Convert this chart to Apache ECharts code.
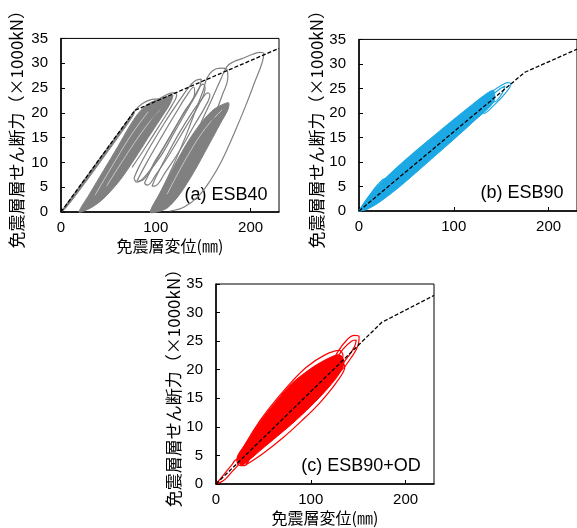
<!DOCTYPE html>
<html>
<head>
<meta charset="utf-8">
<script src="https://cdn.jsdelivr.net/npm/echarts@6/dist/echarts.min.js"></script>
<style>
html, body { margin: 0; padding: 0; background: #fff; }
#chart { width: 577px; height: 528px; }
</style>
</head>
<body>
<div id="chart"></div>
<script>
// skeleton (dashed) curves
var skeletonA = [[0, 0], [78, 20.5], [230, 33]];
var skeletonBC = [[0, 0], [175, 28.3], [230, 33]];

// (a) ESB40 - filled bands
var bandA1 = [[0, 0], [20, 5.3], [40, 10.6], [60, 15.8], [78, 20.5], [76, 19.4], [60, 15], [40, 9.7], [20, 4.5], [5, 0.8]];
var bandA2 = [[19, 0], [30, 3.6], [45, 8.4], [60, 13.2], [72, 17.2], [82, 20], [92, 21.8], [104, 22.8], [112, 23.3], [118, 23.6],
  [115, 21.8], [105, 18.8], [92, 15], [78, 10.8], [63, 6.6], [48, 3.3], [37, 1.5], [28, 0.5]];
var bandA5 = [[94, 0], [105, 4], [120, 9.5], [135, 14.5], [150, 18.5], [162, 20.8], [172, 21.8], [177, 22],
  [176, 20.6], [168, 17.8], [155, 13.2], [140, 8], [125, 3.5], [112, 0.8], [101, 0]];
// light gaps inside the dense bands
var gapA2a = [[36, 3.4], [55, 9.6], [75, 15.8], [92, 20.2]];
var gapA2b = [[48, 5.2], [68, 11.2], [88, 16.8], [104, 20.6]];
var gapA5a = [[112, 3.6], [132, 10.8], [152, 16.8], [170, 20.6]];
// (a) ESB40 - loops
var loopA1 = [[78, 20.5], [86, 21.9], [96, 22.7], [103, 22.8], [107, 22.1], [100, 19.8], [85, 15.2], [70, 10.6], [55, 6.3], [42, 3], [35, 1.6]];
var loopA2 = [[104, 22.9], [111, 23.6], [118, 24], [122, 23.6], [118, 21.8], [105, 17.8], [90, 13.3], [75, 9]];
var loopA3 = [[77, 6.8], [82, 9], [95, 13.5], [110, 18.2], [125, 22.5], [135, 25.2], [142, 26.5], [148, 26.8], [146, 25],
  [135, 21.2], [120, 16.2], [105, 11.2], [90, 7.5], [80, 6], [77, 6.8]];
var loopA4 = [[88, 5.8], [95, 8.5], [110, 13.5], [125, 18.5], [140, 23], [150, 25.8], [152, 25], [145, 21.5], [130, 16.6],
  [115, 11.8], [100, 7.5], [91, 5.4], [88, 5.8]];
var loopA5 = [[96, 5.2], [100, 7], [112, 11.5], [125, 16], [138, 20], [148, 22.6], [155, 24], [157, 23.6], [152, 21.2],
  [140, 17.3], [125, 12.3], [110, 8], [100, 5.3], [96, 5.2]];
var loopA6 = [[96, 0.8], [105, 4], [118, 9.2], [132, 15.5], [142, 20.5], [150, 24.5], [154, 27], [160, 28.5], [168, 29],
  [175, 28.8], [176, 27.2], [170, 23.5], [160, 18.5], [145, 12], [130, 6.8], [115, 3], [104, 1], [96, 0.8]];
var loopA7 = [[100, 0.5], [130, 11], [155, 21], [168, 26.5], [175, 29.3], [182, 30.3], [192, 31], [202, 31.8], [210, 32.2],
  [214, 32], [212, 30], [205, 26.5], [195, 21.5], [183, 16], [170, 10.5], [158, 6.5], [145, 3.2], [130, 1], [115, 0.2]];
var loopA8 = [[80, 6.2], [90, 9.8], [105, 14.8], [120, 19.6], [132, 23.3], [140, 25.2], [141, 24], [130, 20.2], [115, 15.2], [100, 10.5], [86, 6.4], [80, 6.2]];

// (b) ESB90
var bandB = [[0, 0], [8, 2.4], [20, 5.2], [40, 8.9], [60, 12.3], [80, 15.5], [100, 18.7], [120, 21.8], [135, 24], [142, 24.6],
  [142, 22.2], [120, 18.1], [100, 14.6], [80, 11.2], [60, 7.8], [40, 4.5], [20, 1.6], [8, 0.3], [2, 0]];
var loopB1 = [[128, 22.3], [140, 24.3], [150, 25.6], [157, 26.2], [160, 26], [159, 25.2], [152, 23.5], [143, 21.7], [132, 19.9], [128, 22.3]];
var loopB2 = [[136, 22.8], [147, 24.7], [154, 25.5], [151, 24], [142, 22.2], [136, 22.8]];
var loopB3 = [[0, 0], [10, 2.9], [20, 5.4], [28, 6.6], [31, 6], [22, 3.6], [12, 1.4], [0, 0]];

// (c) ESB90+OD
var bandC = [[22, 4.5], [30, 6.8], [47, 11], [65, 14.8], [80, 17.6], [100, 20.2], [115, 21.7], [128, 22.6], [133, 22.3],
  [135, 21], [128, 18.8], [115, 16.2], [100, 13.6], [80, 10.5], [65, 8.4], [47, 5.9], [35, 4.2], [27, 3.3]];
var loopC1 = [[118, 19.8], [128, 23], [138, 25.2], [146, 26], [151, 25.8], [150, 24.3], [143, 22.2], [133, 20], [124, 18.8], [118, 19.8]];
var loopC2 = [[124, 21], [134, 23.6], [143, 25], [148, 25.2], [146, 24], [138, 22], [128, 20.5], [124, 21]];
var loopC3 = [[22, 4.2], [28, 5.6], [36, 6.4], [40, 5.8], [35, 4.3], [30, 3.2], [24, 3.3], [22, 4.2]];
var loopC4 = [[0, 0], [8, 1.6], [16, 3.2], [22, 4.3], [24, 3.8], [16, 2], [8, 0.6], [0, 0]];
var loopC5 = [[28, 6], [40, 9.5], [55, 13], [75, 17], [95, 20.4], [115, 22.6], [130, 23.4], [134, 22.4], [120, 20],
  [100, 17], [80, 13.5], [60, 9.8], [45, 7.2], [34, 5.6], [28, 6]];
var loopC6 = [[32, 3.4], [50, 5.4], [70, 8], [90, 11], [110, 14.3], [128, 18], [136, 20.6], [132, 21], [118, 18.2],
  [100, 15], [80, 11.8], [60, 8.8], [42, 6], [32, 3.4]];

var gray = '#808080';
var blue = '#1CA8E4';
var red = '#FF0000';
var numFont = "'Liberation Sans', sans-serif";
var jpFont = "'Noto Sans CJK JP', sans-serif";

function polySeries(idx, pts, color) {
    return {
        type: 'custom', xAxisIndex: idx, yAxisIndex: idx, data: [[0, 0]], silent: true, z: 2,
        renderItem: function (params, api) {
            return {
                type: 'polygon',
                shape: { points: pts.map(function (p) { return api.coord(p); }), smooth: 0.3 },
                style: { fill: color, stroke: color, lineWidth: 1 }
            };
        }
    };
}

function loopSeries(idx, pts, color, w) {
    return {
        type: 'line', xAxisIndex: idx, yAxisIndex: idx, data: pts, symbol: 'none', smooth: 0.4,
        silent: true, z: 3, lineStyle: { color: color, width: w || 1.2 }
    };
}

function skelSeries(idx, pts) {
    return {
        type: 'line', xAxisIndex: idx, yAxisIndex: idx, data: pts, symbol: 'none', silent: true, z: 5,
        lineStyle: { color: '#000', width: 1.3, type: [4, 2] }
    };
}

function xAx(idx, withName) {
    return {
        gridIndex: idx, type: 'value', min: 0, max: 230, interval: 100,
        axisLine: { show: true, onZero: false, lineStyle: { color: '#000', width: 1.5 } },
        axisTick: { inside: true, length: 4, lineStyle: { color: '#000' } },
        axisLabel: { showMaxLabel: false, color: '#000', fontSize: 15, margin: 8, fontFamily: numFont },
        splitLine: { show: false },
        name: withName ? '免震層変位(㎜)' : '', nameLocation: 'middle', nameGap: 26,
        nameTextStyle: { color: '#000', fontSize: 16, fontFamily: jpFont }
    };
}

function yAx(idx, gap) {
    return {
        gridIndex: idx, type: 'value', min: 0, max: 35, interval: 5,
        axisLine: { show: true, onZero: false, lineStyle: { color: '#000', width: 1.5 } },
        axisTick: { inside: true, length: 4, lineStyle: { color: '#000' } },
        axisLabel: { color: '#000', fontSize: 15, margin: 13, fontFamily: numFont },
        splitLine: { show: false },
        name: '免震層層せん断力（×1000kN）', nameLocation: 'middle', nameGap: gap,
        nameTextStyle: { color: '#000', fontSize: 17, fontFamily: jpFont }
    };
}

var chart = echarts.init(document.getElementById('chart'), null, { renderer: 'canvas' });

var series = [
    polySeries(0, bandA1, gray), polySeries(0, bandA2, gray), polySeries(0, bandA5, gray),
    loopSeries(0, gapA2a, '#d9d9d9', 0.8), loopSeries(0, gapA2b, '#d9d9d9', 0.8), loopSeries(0, gapA5a, '#d9d9d9', 0.8),
    loopSeries(0, loopA1, gray), loopSeries(0, loopA2, gray), loopSeries(0, loopA3, gray), loopSeries(0, loopA4, gray),
    loopSeries(0, loopA5, gray), loopSeries(0, loopA6, gray), loopSeries(0, loopA7, gray), loopSeries(0, loopA8, gray),
    skelSeries(0, skeletonA),
    polySeries(1, bandB, blue), loopSeries(1, loopB1, blue), loopSeries(1, loopB2, blue), loopSeries(1, loopB3, blue),
    skelSeries(1, skeletonBC),
    polySeries(2, bandC, red), loopSeries(2, loopC1, red), loopSeries(2, loopC2, red), loopSeries(2, loopC3, red),
    loopSeries(2, loopC4, red), loopSeries(2, loopC5, red), loopSeries(2, loopC6, red),
    skelSeries(2, skeletonBC)
];

var option = {
    animation: false,
    backgroundColor: '#fff',
    grid: [
        { left: 61, top: 15, width: 218, height: 197, show: true, borderColor: '#000', borderWidth: 1 },
        { left: 359, top: 15, width: 218, height: 196, show: true, borderColor: '#000', borderWidth: 1 },
        { left: 216, top: 284, width: 218, height: 200, show: true, borderColor: '#000', borderWidth: 1 }
    ],
    xAxis: [xAx(0, true), xAx(1, false), xAx(2, true)],
    yAxis: [yAx(0, 36), yAx(1, 29), yAx(2, 32)],
    graphic: [
        { type: 'text', x: 226, y: 195, style: { text: '(a) ESB40', font: '18px ' + numFont, fill: '#000', align: 'center', verticalAlign: 'middle' } },
        { type: 'text', x: 522, y: 193, style: { text: '(b) ESB90', font: '18px ' + numFont, fill: '#000', align: 'center', verticalAlign: 'middle' } },
        { type: 'text', x: 361, y: 466, style: { text: '(c) ESB90+OD', font: '18px ' + numFont, fill: '#000', align: 'center', verticalAlign: 'middle' } }
    ],
    series: series
};

chart.setOption(option);
</script>
</body>
</html>
